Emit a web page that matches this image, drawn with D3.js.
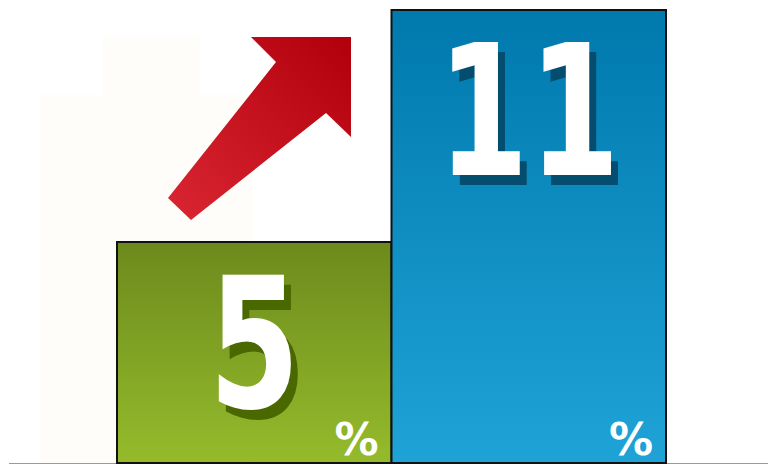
<!DOCTYPE html>
<html>
<head>
    <script src="https://d3js.org/d3.v7.min.js"></script>
    <style>
        body { margin: 0; background: #fff; }
        svg { display: block; }
        .num {
            font-family: "DejaVu Sans Condensed", "DejaVu Sans", sans-serif;
            font-stretch: condensed;
            font-weight: bold;
            font-size: 182px;
            text-anchor: middle;
        }
        .pct {
            font-family: "DejaVu Sans", sans-serif;
            font-weight: bold;
            font-size: 44px;
            text-anchor: end;
            fill: #fff;
        }
    </style>
</head>
<body>
    <svg width="768" height="464"></svg>
    <script>
        var categories = ["before", "after"];
        var values = [5, 11];
        var labels = ["5", "11"];
        var topColors = ["#6c8a1c", "#0079ad"];
        var bottomColors = ["#95bb2c", "#1fa3d7"];
        var shadowColors = ["#4a6800", "#044d6e"];

        var svg = d3.select("svg"),
            width = +svg.attr("width"),
            height = +svg.attr("height"),
            baseline = 463;

        var x = d3.scaleBand().domain(categories).range([117, 666]).paddingInner(0);
        // the picture is not drawn from zero, so map the two values directly
        var y = d3.scaleLinear().domain([5, 11]).range([242, 10]);

        var defs = svg.append("defs");
        categories.forEach(function(c, i) {
            var lg = defs.append("linearGradient")
                .attr("id", "grad" + i)
                .attr("x1", 0).attr("y1", 0).attr("x2", 0).attr("y2", 1);
            lg.append("stop").attr("offset", "0%").attr("stop-color", topColors[i]);
            lg.append("stop").attr("offset", "100%").attr("stop-color", bottomColors[i]);
        });
        var ag = defs.append("linearGradient")
            .attr("id", "arrowGrad")
            .attr("x1", 0).attr("y1", 1).attr("x2", 1).attr("y2", 0);
        ag.append("stop").attr("offset", "0%").attr("stop-color", "#da2633");
        ag.append("stop").attr("offset", "100%").attr("stop-color", "#b1000b");

        // faint ghost shape behind the arrow
        svg.append("path")
            .attr("d", "M40,95H103V37H200V95H253V463H40Z")
            .attr("fill", "#fefdfa");

        // baseline
        svg.append("line")
            .attr("x1", 9).attr("x2", width)
            .attr("y1", baseline + 0.5).attr("y2", baseline + 0.5)
            .attr("stroke", "#9a9a9a")
            .attr("stroke-width", 1);

        var bars = svg.selectAll(".bar")
            .data(values)
            .enter().append("g")
            .attr("class", "bar");

        bars.append("rect")
            .attr("x", function(d, i) { return x(categories[i]); })
            .attr("y", function(d) { return y(d); })
            .attr("width", x.bandwidth())
            .attr("height", function(d) { return baseline - y(d); })
            .attr("fill", function(d, i) { return "url(#grad" + i + ")"; })
            .attr("stroke", "#111")
            .attr("stroke-width", 2);

        function numPos(d, i, dx, dy) {
            var cx = x(categories[i]) + x.bandwidth() / 2 + dx,
                cy = y(d) + 165 + dy;
            return "translate(" + cx + "," + cy + ") scale(0.8,1)";
        }

        // number shadow
        bars.append("text")
            .attr("class", "num")
            .attr("transform", function(d, i) { return numPos(d, i, 7, 10); })
            .attr("fill", function(d, i) { return shadowColors[i]; })
            .text(function(d, i) { return labels[i]; });

        bars.append("text")
            .attr("class", "num")
            .attr("transform", function(d, i) { return numPos(d, i, 0, 0); })
            .attr("fill", "#fff")
            .text(function(d, i) { return labels[i]; });

        bars.append("text")
            .attr("class", "pct")
            .attr("x", function(d, i) { return x(categories[i]) + x.bandwidth() - 13; })
            .attr("y", baseline - 8)
            .text("%");

        // rising arrow from the small bar toward the tall one
        svg.append("path")
            .attr("d", "M168,198L276,62L251,37H351V137L326,113L191,220Z")
            .attr("fill", "url(#arrowGrad)");
    </script>
</body>
</html>
